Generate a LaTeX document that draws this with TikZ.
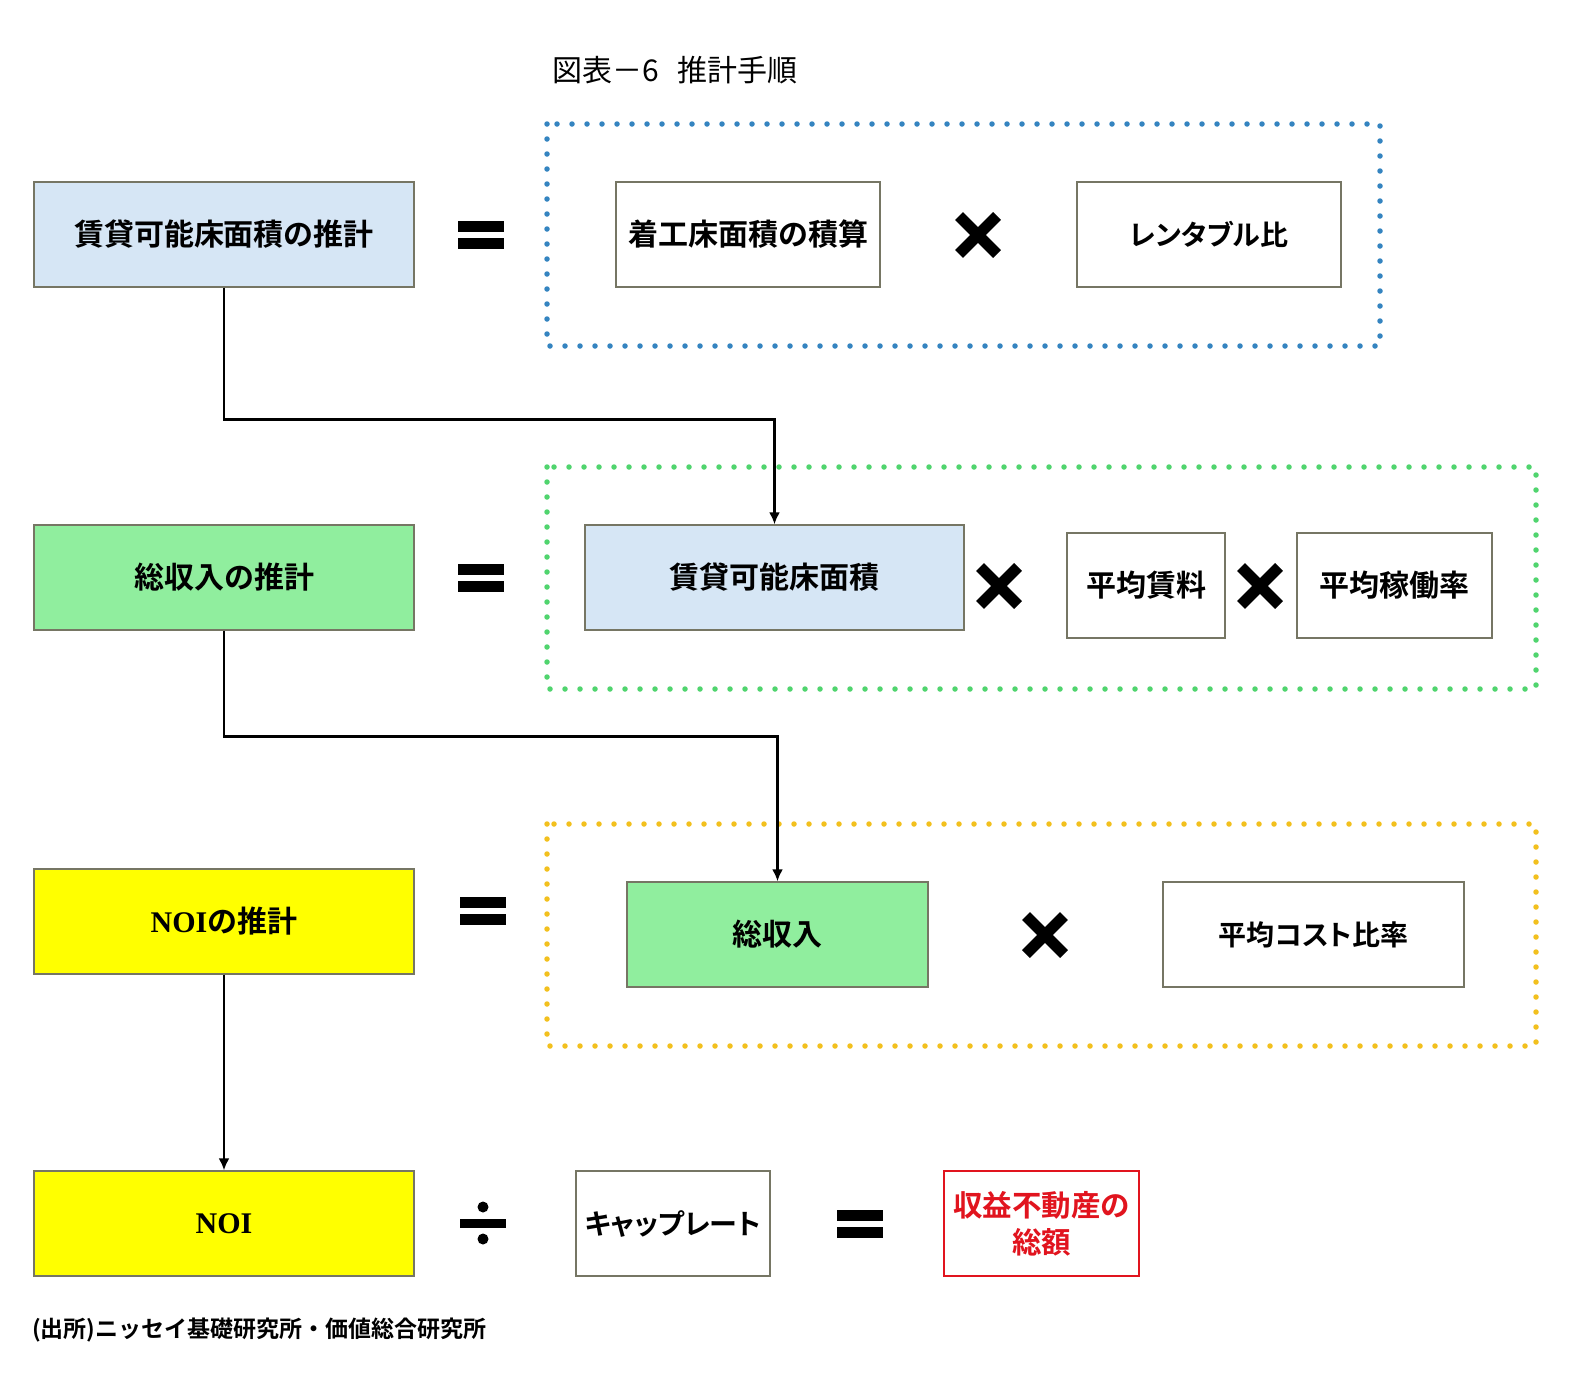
\documentclass[tikz,border=0pt]{standalone}
\usepackage{fontspec}
\setmainfont{Noto Sans CJK JP}[BoldFont={Noto Sans CJK JP Bold}]
\newfontfamily\jpp{Noto Sans CJK JP}[BoldFont={Noto Sans CJK JP Bold},RawFeature=+palt]
\newfontfamily\serifb{Liberation Serif}
\usetikzlibrary{arrows.meta}
\definecolor{lblue}{RGB}{214,230,245}
\definecolor{lgreen}{RGB}{144,238,158}
\definecolor{yel}{RGB}{255,255,0}
\definecolor{dblue}{RGB}{52,132,192}
\definecolor{dgreen}{RGB}{80,212,110}
\definecolor{dgold}{RGB}{242,192,30}
\definecolor{bord}{RGB}{118,118,100}
\definecolor{redc}{RGB}{225,20,30}
\begin{document}
\begin{tikzpicture}[x=1pt,y=-1pt,
  box/.style={draw=bord,line width=1.3pt,inner sep=0pt,align=center,
    font=\bfseries\fontsize{30}{40}\selectfont},
  sz/.style 2 args={minimum width=#1pt,minimum height=#2pt},
  dotf/.style={draw=#1,line width=5.5pt,line cap=round,dash pattern=on 0pt off 15pt},
  arr/.style={line width=2.8pt,-{Latex[length=12pt,width=11pt]}},
  eqsign/.pic={\fill (-23,-14) rectangle (23,-3); \fill (-23,3) rectangle (23,14);},
  timessign/.pic={\draw[line width=11pt] (-19,-19) -- (19,19) (-19,19) -- (19,-19);},
  divsign/.pic={\fill (-23,-4.5) rectangle (23,4.5); \fill (0,-16) circle (5.5pt); \fill (0,16) circle (5.5pt);}
]
\useasboundingbox (0,0) rectangle (1572,1393);

% title
\node[anchor=west,font=\fontsize{30}{36}\selectfont] (title) at (549,70) {図表－6\hspace{0.6em}推計手順};

% dotted frames
\draw[dotf=dblue] (547,124) rectangle (1380,346);
\draw[dotf=dgreen] (547,467) rectangle (1536,689);
\draw[dotf=dgold] (547,824) rectangle (1536,1046);

% row 1
\node[box,sz={380}{105},fill=lblue] (A) at (224,234.5) {賃貸可能床面積の推計};
\pic at (481,235) {eqsign};
\node[box,sz={264}{105},fill=white] (A1) at (748,234.5) {着工床面積の積算};
\pic at (978,235) {timessign};
\node[box,sz={264}{105},fill=white,font=\bfseries\fontsize{28}{40}\selectfont] (A2) at (1209,234.5) {\jpp レンタブル比};

% row 2
\node[box,sz={380}{105},fill=lgreen] (B) at (224,577.5) {総収入の推計};
\pic at (481,578) {eqsign};
\node[box,sz={379}{105},fill=lblue] (B1) at (774.5,577.5) {賃貸可能床面積};
\pic at (999,586) {timessign};
\node[box,sz={158}{105},fill=white] (B2) at (1146,585.5) {平均賃料};
\pic at (1260,586) {timessign};
\node[box,sz={195}{105},fill=white] (B3) at (1394.5,585.5) {平均稼働率};

% row 3
\node[box,sz={380}{105},fill=yel] (C) at (224,921.5) {{\serifb NOI}の推計};
\pic at (483,911) {eqsign};
\node[box,sz={301}{105},fill=lgreen] (C1) at (777.5,934.5) {総収入};
\pic at (1045,935) {timessign};
\node[box,sz={301}{105},fill=white,font=\bfseries\fontsize{28}{40}\selectfont] (C2) at (1313.5,934.5) {\jpp 平均コスト比率};

% row 4
\node[box,sz={380}{105},fill=yel] (D) at (224,1223.5) {\serifb NOI};
\pic at (483,1223) {divsign};
\node[box,sz={194}{105},fill=white,font=\bfseries\fontsize{28}{40}\selectfont] (D1) at (673,1223.5) {\jpp キャップレート};
\pic at (860,1224) {eqsign};
\node[box,sz={195}{105},fill=white,draw=redc,text=redc,font=\bfseries\fontsize{29.5}{37}\selectfont] (D2) at (1041.5,1223.5) {収益不動産の\\総額};

% arrows
\draw[arr] (A.south) -- ++(0,132) -| (B1.north);
\draw[arr] (B.south) -- ++(0,106) -| (C1.north);
\draw[arr] (C.south) -- (D.north);

% footer
\node[anchor=west,font=\bfseries\fontsize{23}{28}\selectfont,inner sep=0pt] (src) at (32,1330) {(出所)ニッセイ基礎研究所・価値総合研究所};
\end{tikzpicture}
\end{document}
